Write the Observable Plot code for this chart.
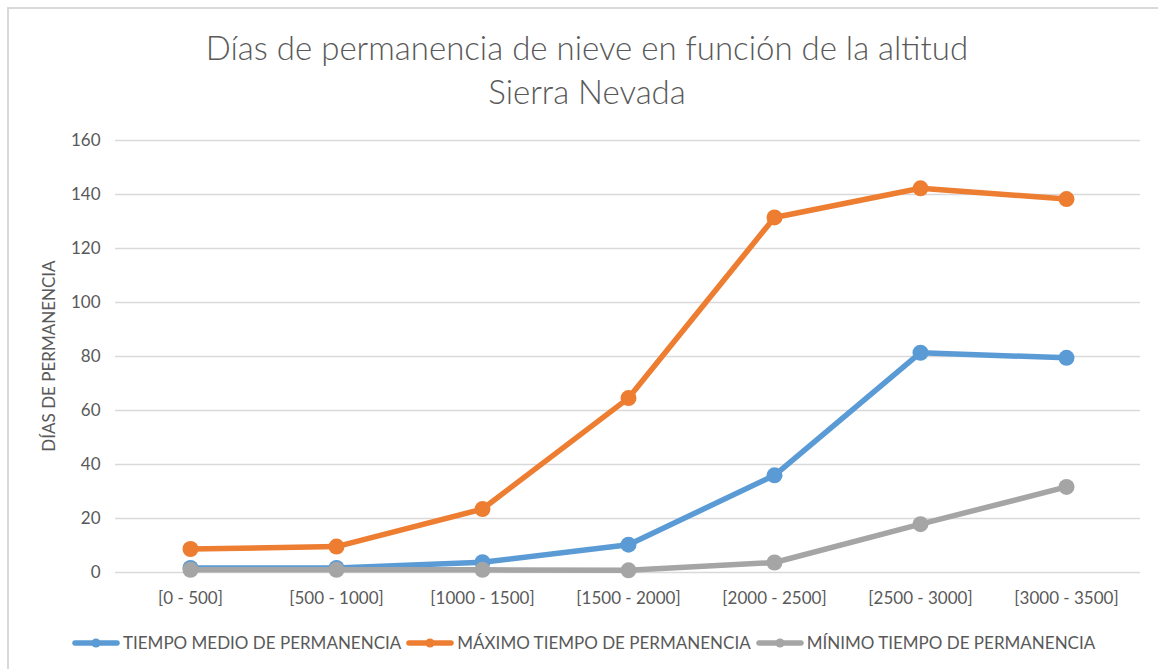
<!DOCTYPE html>
<html>
<head>
<meta charset="utf-8">
<script src="https://cdn.jsdelivr.net/npm/d3@7"></script>
<script src="https://cdn.jsdelivr.net/npm/@observablehq/plot@0.6"></script>
<style>
  html, body { margin: 0; padding: 0; background: #fff; }
  body { width: 1158px; height: 669px; position: relative; overflow: hidden; font-family: Lato, "Open Sans", sans-serif; color: #595959; }
  #frame { position: absolute; left: 7px; top: 7px; width: 1200px; height: 700px; border-left: 2px solid #d9d9d9; border-top: 2px solid #d9d9d9; }
  #title { position: absolute; left: 0; width: 1174px; top: 25px; text-align: center; font-size: 33px; font-weight: 300; line-height: 44px; color: #595959; }
  #chart { position: absolute; left: 0; top: 0; }
  #ylabel { position: absolute; left: 48px; top: 356px; transform: translate(-50%, -50%) rotate(-90deg); font-size: 17px; white-space: nowrap; color: #595959; }
  #legend { position: absolute; left: 72px; top: 632px; display: flex; align-items: center; font-size: 17px; white-space: nowrap; }
  #legend .item { display: flex; align-items: center; margin-right: 5px; }
  #legend svg { margin-right: 3px; }
</style>
</head>
<body>
<div id="frame"></div>
<div id="chart"></div>
<div id="title">Días de permanencia de nieve en función de la altitud<br>Sierra Nevada</div>
<div id="ylabel">DÍAS DE PERMANENCIA</div>
<div id="legend"></div>
<script>
const categories = ["[0 - 500]", "[500 - 1000]", "[1000 - 1500]", "[1500 - 2000]", "[2000 - 2500]", "[2500 - 3000]", "[3000 - 3500]"];
const medio = [1.7, 1.7, 3.8, 10.3, 36, 81.4, 79.5];
const maximo = [8.7, 9.6, 23.5, 64.6, 131.5, 142.3, 138.3];
const minimo = [1, 1, 1, 0.8, 3.7, 17.9, 31.7];
const seriesNames = ["TIEMPO MEDIO DE PERMANENCIA", "MÁXIMO TIEMPO DE PERMANENCIA", "MÍNIMO TIEMPO DE PERMANENCIA"];
const seriesColors = ["#5B9BD5", "#ED7D31", "#A5A5A5"];
const yTicks = [0, 20, 40, 60, 80, 100, 120, 140, 160];

const seriesValues = [medio, maximo, minimo];
const data = seriesValues.flatMap((vals, s) => vals.map((v, i) => ({cat: categories[i], value: v, series: seriesNames[s]})));

const marks = [Plot.ruleY(yTicks, {stroke: "#d9d9d9", strokeWidth: 1.3})];
seriesNames.forEach((name, s) => {
  const d = data.filter(r => r.series === name);
  marks.push(Plot.line(d, {x: "cat", y: "value", stroke: seriesColors[s], strokeWidth: 5.5, strokeLinejoin: "round", strokeLinecap: "round"}));
  marks.push(Plot.dot(d, {x: "cat", y: "value", fill: seriesColors[s], r: 8, stroke: "none"}));
});

const chart = Plot.plot({
  width: 1158,
  height: 625,
  marginLeft: 115,
  marginRight: 18,
  marginTop: 140,
  marginBottom: 53,
  style: {fontFamily: "Lato, 'Open Sans', sans-serif", fontSize: "17px", color: "#595959", background: "transparent"},
  x: {type: "point", domain: categories, padding: 0.5, label: null, tickSize: 0, tickPadding: 19},
  y: {domain: [0, 160], ticks: yTicks, label: null, tickSize: 0, tickPadding: 15, tickFormat: d => String(d)},
  marks
});
document.getElementById("chart").appendChild(chart);

const legend = document.getElementById("legend");
seriesNames.forEach((name, s) => {
  const item = document.createElement("div");
  item.className = "item";
  item.innerHTML = `<svg width="48" height="12"><line x1="3" y1="6" x2="45" y2="6" stroke="${seriesColors[s]}" stroke-width="5.5" stroke-linecap="round"/><circle cx="24" cy="6" r="4.5" fill="${seriesColors[s]}"/></svg><span>${name}</span>`;
  legend.appendChild(item);
});
</script>
</body>
</html>
